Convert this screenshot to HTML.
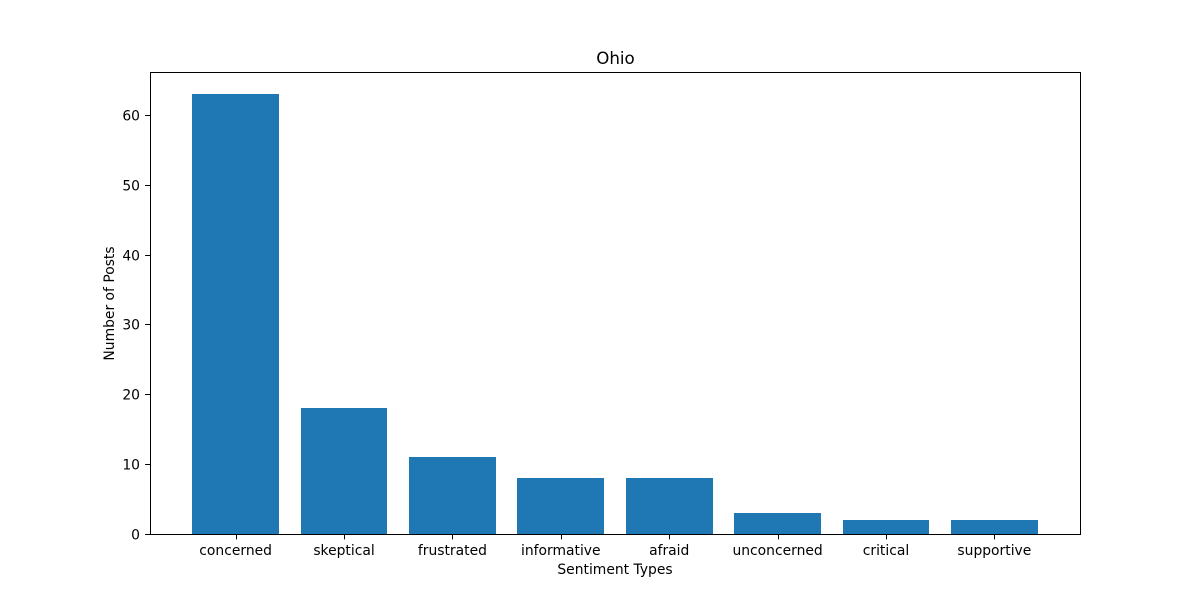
<!DOCTYPE html>
<html>
<head>
<meta charset="utf-8">
<title>Ohio</title>
<style>
html,body{margin:0;padding:0;background:#fff;}
svg{display:block;font-family:"DejaVu Sans",sans-serif;fill:#000;}
</style>
</head>
<body>
<svg id="chart" xmlns="http://www.w3.org/2000/svg" width="1200" height="600" viewBox="0 0 1200 600">
<rect x="0" y="0" width="1200" height="600" fill="#fff"></rect>
<g id="bars" shape-rendering="crispEdges"></g>
<g id="xticks"></g>
<g id="yticks"></g>
<rect x="150.5" y="72.5" width="930" height="462" fill="none" stroke="#000" stroke-width="1" shape-rendering="crispEdges"></rect>
<text x="615.5" y="64" text-anchor="middle" font-size="16.67">Ohio</text>
<text x="615" y="574" text-anchor="middle" font-size="13.89">Sentiment Types</text>
<text transform="translate(114 303.5) rotate(-90)" text-anchor="middle" font-size="13.89">Number of Posts</text>
</svg>
<script>
const categories = ["concerned", "skeptical", "frustrated", "informative", "afraid", "unconcerned", "critical", "supportive"];
const postCounts = [63, 18, 11, 8, 8, 3, 2, 2];
const yTickValues = [0, 10, 20, 30, 40, 50, 60];

const NS = "http://www.w3.org/2000/svg";
const plot = { left: 150, right: 1080, top: 72, bottom: 534 };
const barWidth = 0.8;
const xMin = -barWidth / 2 - 0.05 * (categories.length - 1 + barWidth);
const xMax = categories.length - 1 + barWidth / 2 + 0.05 * (categories.length - 1 + barWidth);
const yMax = Math.max(...postCounts) * 1.05;

function xScale(v) {
  return plot.left + (v - xMin) / (xMax - xMin) * (plot.right - plot.left);
}
function yScale(v) {
  return plot.bottom - v / yMax * (plot.bottom - plot.top);
}
function make(tag, attrs, parent) {
  const el = document.createElementNS(NS, tag);
  for (const k in attrs) el.setAttribute(k, attrs[k]);
  parent.appendChild(el);
  return el;
}

const barsGroup = document.getElementById("bars");
const xGroup = document.getElementById("xticks");
const yGroup = document.getElementById("yticks");

categories.forEach(function (cat, i) {
  const x0 = Math.round(xScale(i - barWidth / 2));
  const x1 = Math.round(xScale(i + barWidth / 2));
  const yTop = Math.round(yScale(postCounts[i]));
  const bar = make("rect", { x: x0, y: yTop, width: x1 - x0, height: plot.bottom - yTop, fill: "#1f77b4" }, barsGroup);
  
  

  const cx = Math.round(xScale(i)) + 0.5;
  const tick = make("line", { x1: cx, x2: cx, y1: plot.bottom, y2: plot.bottom + 5.4, stroke: "#000", "stroke-width": 1 }, xGroup);
  
  

  const label = make("text", { x: xScale(i), y: 555, "text-anchor": "middle", "font-size": 13.89 }, xGroup);
  label.textContent = cat;
  
  
});

yTickValues.forEach(function (v) {
  const y = Math.round(yScale(v)) + 0.5;
  const tick = make("line", { x1: plot.left - 4.9, x2: plot.left, y1: y, y2: y, stroke: "#000", "stroke-width": 1 }, yGroup);
  
  

  const label = make("text", { x: plot.left - 10, y: y + 5, "text-anchor": "end", "font-size": 13.89 }, yGroup);
  label.textContent = String(v);
  
  
});
</script>
</body>
</html>
